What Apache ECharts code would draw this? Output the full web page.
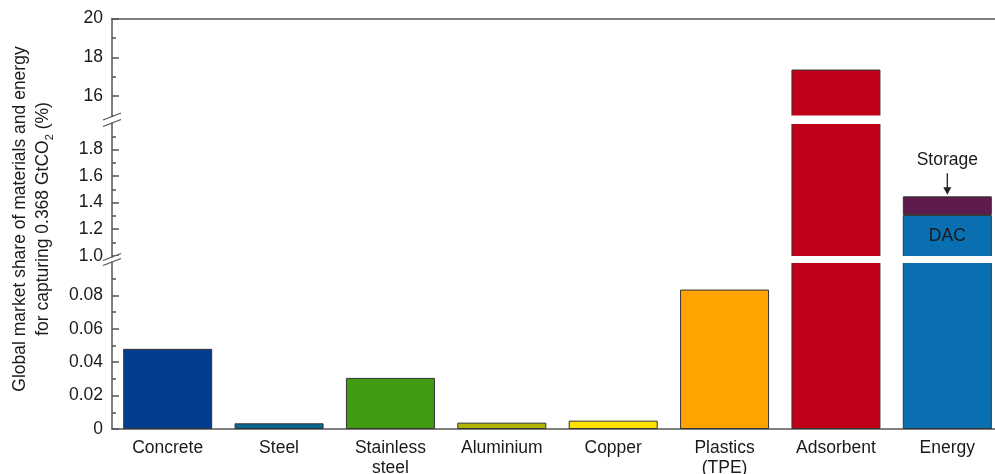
<!DOCTYPE html>
<html>
<head>
<meta charset="utf-8">
<script src="https://cdn.jsdelivr.net/npm/echarts@6/dist/echarts.min.js"></script>
<style>
  html, body { margin: 0; padding: 0; background: #fff; }
  #chart { width: 995px; height: 474px; }
</style>
</head>
<body>
<div id="chart"></div>
<script>
// data
const categories = ['Concrete', 'Steel', 'Stainless\nsteel', 'Aluminium', 'Copper', 'Plastics\n(TPE)', 'Adsorbent', 'Energy'];
const materialValues = [0.048, 0.0034, 0.0306, 0.0038, 0.005, 0.0835, 17.37, null];
const materialColors = ['#003d8f', '#0a6693', '#429b10', '#b4b500', '#ffe100', '#ffa400', '#c00018', null];
const dacValues = [null, null, null, null, null, null, null, 1.307];
const storageValues = [null, null, null, null, null, null, null, 0.14];
const topTicks = [16, 18, 20];
const topMinor = [15, 17, 19];
const midTicks = [1.0, 1.2, 1.4, 1.6, 1.8];
const midMinor = [1.1, 1.3, 1.5, 1.7, 1.9];
const lowTicks = [0, 0.02, 0.04, 0.06, 0.08];
const lowMinor = [0.01, 0.03, 0.05, 0.07, 0.09];

const FONT = '"Liberation Sans", Arial, Helvetica, sans-serif';
const AXIS = '#555';
const TEXT = '#1a1a1a';
const DAC_COLOR = '#0a6fb0';
const STORAGE_COLOR = '#5f1b4b';

// three stacked pieces of a broken y axis
const segments = [
  { top: 18.5, height: 98, min: 14.95, max: 20, ticks: topTicks, minor: topMinor, fmt: v => String(v) },
  { top: 123, height: 134, min: 0.99, max: 2.0, ticks: midTicks, minor: midMinor, fmt: v => v.toFixed(1) },
  { top: 262, height: 167, min: 0, max: 0.1, ticks: lowTicks, minor: lowMinor, fmt: v => (v === 0 ? '0' : v.toFixed(2)) }
];

const chart = echarts.init(document.getElementById('chart'));

function inRange(lo, hi, seg) {
  return hi > seg.min && lo < seg.max;
}

const grids = segments.map(s => ({
  left: 112, width: 891, top: s.top, height: s.height,
  outerBoundsMode: 'none', containLabel: false
}));

const xAxes = segments.map((s, i) => ({
  type: 'category',
  gridIndex: i,
  data: categories,
  position: i === 0 ? 'top' : 'bottom',
  axisLine: { show: i !== 1, lineStyle: { color: AXIS, width: 1.5 } },
  axisTick: { show: false },
  axisLabel: {
    show: i === 2,
    color: TEXT,
    fontSize: 17.5,
    fontFamily: FONT,
    lineHeight: 20,
    margin: 9
  },
  splitLine: { show: false }
}));

const majorAxes = segments.map((s, i) => ({
  type: 'value',
  gridIndex: i,
  min: s.min,
  max: s.max,
  position: 'left',
  axisLine: { show: true, lineStyle: { color: AXIS, width: 1.5 } },
  axisTick: { show: true, inside: true, length: 7, customValues: s.ticks, lineStyle: { color: AXIS, width: 1.5 } },
  axisLabel: { show: true, customValues: s.ticks, formatter: s.fmt, color: TEXT, fontSize: 17.5, fontFamily: FONT, margin: 9 },
  splitLine: { show: false }
}));
const minorAxes = segments.map((s, i) => ({
  type: 'value',
  gridIndex: i,
  min: s.min,
  max: s.max,
  position: 'left',
  axisLine: { show: false },
  axisTick: { show: true, inside: true, length: 4, customValues: s.minor, lineStyle: { color: AXIS, width: 1.5 } },
  axisLabel: { show: false },
  splitLine: { show: false }
}));

const series = [];
segments.forEach((s, i) => {
  const common = {
    type: 'bar',
    xAxisIndex: i,
    yAxisIndex: i,
    barWidth: 89,
    barGap: '-100%',
    silent: true,
    itemStyle: { borderColor: '#333', borderWidth: 1 }
  };
  series.push(Object.assign({}, common, {
    name: 'materials',
    data: materialValues.map((v, k) =>
      v != null && inRange(0, v, s) ? { value: v, itemStyle: { color: materialColors[k] } } : '-')
  }));
  series.push(Object.assign({}, common, {
    name: 'DAC',
    stack: 'energy' + i,
    itemStyle: { color: DAC_COLOR, borderColor: '#333', borderWidth: 1 },
    data: dacValues.map(v => (v != null && inRange(0, v, s) ? v : '-'))
  }));
  series.push(Object.assign({}, common, {
    name: 'Storage',
    stack: 'energy' + i,
    itemStyle: { color: STORAGE_COLOR, borderColor: '#333', borderWidth: 1 },
    data: storageValues.map((v, k) =>
      v != null && inRange(dacValues[k], dacValues[k] + v, s) ? v : '-')
  }));
});

chart.setOption({
  animation: false,
  grid: grids,
  xAxis: xAxes,
  yAxis: majorAxes.concat(minorAxes),
  series: series
});

// break gaps and slash marks, placed from the grid layout
const decor = [];
for (let i = 0; i < segments.length - 1; i++) {
  const yb = segments[i].top + segments[i].height;
  const yt = segments[i + 1].top;
  decor.push({
    type: 'rect', z: 50, silent: true,
    shape: { x: 113, y: yb - 1, width: 900, height: yt - yb + 2 },
    style: { fill: '#fff' }
  });
  [yb, yt].forEach(y => {
    decor.push({
      type: 'line', z: 60, silent: true,
      shape: { x1: 103, y1: y + 3.5, x2: 121, y2: y - 3.5 },
      style: { stroke: AXIS, lineWidth: 1.3 }
    });
  });
}

// energy annotations
const ei = categories.indexOf('Energy');
const dacTop = chart.convertToPixel({ xAxisIndex: 1, yAxisIndex: 1 }, [ei, dacValues[ei]]);
const midBottom = chart.convertToPixel({ xAxisIndex: 1, yAxisIndex: 1 }, [ei, segments[1].min]);
const stTop = chart.convertToPixel({ xAxisIndex: 1, yAxisIndex: 1 }, [ei, dacValues[ei] + storageValues[ei]]);
decor.push({
  type: 'text', z: 70, silent: true,
  x: dacTop[0], y: (dacTop[1] + midBottom[1]) / 2,
  style: { text: 'DAC', fill: TEXT, font: '17.5px ' + FONT, align: 'center', verticalAlign: 'middle' }
});
decor.push({
  type: 'text', z: 70, silent: true,
  x: stTop[0], y: stTop[1] - 36,
  style: { text: 'Storage', fill: TEXT, font: '17.5px ' + FONT, align: 'center', verticalAlign: 'middle' }
});
decor.push({
  type: 'line', z: 70, silent: true,
  shape: { x1: stTop[0], y1: stTop[1] - 23, x2: stTop[0], y2: stTop[1] - 7 },
  style: { stroke: '#222', lineWidth: 1.3 }
});
decor.push({
  type: 'polygon', z: 70, silent: true,
  shape: { points: [[stTop[0] - 4, stTop[1] - 9], [stTop[0] + 4, stTop[1] - 9], [stTop[0], stTop[1] - 1.5]] },
  style: { fill: '#222' }
});

// rotated y-axis title
decor.push({
  type: 'text', z: 70, silent: true,
  x: 32, y: 219, rotation: Math.PI / 2,
  style: {
    text: '{a|Global market share of materials and energy}\n{a|for capturing 0.368 GtCO}{s|2}{a| (%)}',
    align: 'center', verticalAlign: 'middle',
    rich: {
      a: { fontSize: 17.5, fontFamily: FONT, fill: TEXT, lineHeight: 23 },
      s: { fontSize: 11, fontFamily: FONT, fill: TEXT, lineHeight: 23, verticalAlign: 'bottom' }
    }
  }
});

chart.setOption({ graphic: { elements: decor } });
</script>
</body>
</html>
